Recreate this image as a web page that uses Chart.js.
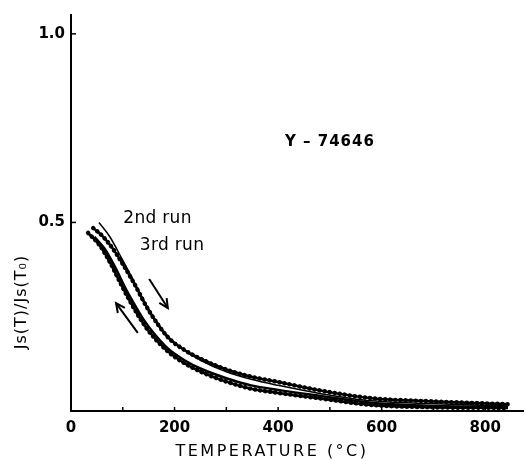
<!DOCTYPE html>
<html>
<head>
<meta charset="utf-8">
<script src="https://cdn.jsdelivr.net/npm/chart.js@4"></script>
<style>
  html, body { margin: 0; padding: 0; background: #fff; }
  #wrap { width: 525px; height: 461px; }
</style>
</head>
<body>
<div id="wrap"><canvas id="chart"></canvas></div>
<script>
// 2nd run, heating (thin line)
const heat2T = [54, 75, 99, 120, 150, 187, 220, 251, 300, 348, 400, 483, 580, 690, 844];
const heat2V = [0.500, 0.462, 0.402, 0.348, 0.270, 0.198, 0.160, 0.134, 0.104, 0.084, 0.068, 0.046, 0.027, 0.020, 0.013];
// 3rd run, heating (dotted)
const heat3T = [43, 60, 80, 99, 120, 150, 187, 220, 251, 300, 348, 400, 483, 580, 690, 844];
const heat3V = [0.485, 0.465, 0.432, 0.392, 0.343, 0.267, 0.196, 0.161, 0.138, 0.110, 0.091, 0.077, 0.054, 0.034, 0.026, 0.018];
// cooling curves
const cool2T = [45, 65, 85, 105, 122, 140, 160, 187, 220, 251, 300, 348, 400, 483, 580, 690, 844];
const cool2V = [0.462, 0.430, 0.382, 0.326, 0.284, 0.243, 0.206, 0.166, 0.134, 0.112, 0.087, 0.068, 0.056, 0.040, 0.022, 0.014, 0.010];
const cool3T = [33, 55, 75, 97, 112, 130, 150, 187, 220, 251, 300, 348, 400, 483, 580, 690, 844];
const cool3V = [0.472, 0.440, 0.395, 0.335, 0.296, 0.253, 0.212, 0.158, 0.126, 0.104, 0.078, 0.059, 0.048, 0.033, 0.016, 0.010, 0.008];

const xLabels = [0, 200, 400, 600, 800];
const yLabels = [0.5, 1.0];

const pts = (xs, ys) => xs.map((x, i) => ({ x: x, y: ys[i] }));

const line = (data, w, extra) => Object.assign({
    data: data,
    borderColor: '#000',
    borderWidth: w,
    pointRadius: 0,
    fill: false,
    cubicInterpolationMode: 'monotone'
}, extra || {});

// dots drawn on top of the thick curves
const beads = { borderDash: [0.1, 5], borderCapStyle: 'round' };

const notes = {
    id: 'notes',
    afterDraw(chart) {
        const ctx = chart.ctx;
        const xs = chart.scales.x, ys = chart.scales.y;
        const area = chart.chartArea;
        ctx.save();
        ctx.strokeStyle = '#000';
        ctx.fillStyle = '#000';
        // inward ticks
        ctx.lineWidth = 1.5;
        for (let t = 100; t <= 800; t += 100) {
            const px = xs.getPixelForValue(t);
            ctx.beginPath(); ctx.moveTo(px, area.bottom); ctx.lineTo(px, area.bottom - 4); ctx.stroke();
        }
        yLabels.forEach(v => {
            const py = ys.getPixelForValue(v);
            ctx.beginPath(); ctx.moveTo(area.left, py); ctx.lineTo(area.left + 5, py); ctx.stroke();
        });
        // arrows
        const arrow = (t0, v0, t1, v1) => {
            const x0 = xs.getPixelForValue(t0), y0 = ys.getPixelForValue(v0);
            const x1 = xs.getPixelForValue(t1), y1 = ys.getPixelForValue(v1);
            const a = Math.atan2(y1 - y0, x1 - x0);
            ctx.lineWidth = 2;
            ctx.beginPath(); ctx.moveTo(x0, y0); ctx.lineTo(x1, y1); ctx.stroke();
            ctx.beginPath();
            ctx.moveTo(x1 - 10 * Math.cos(a - 0.45), y1 - 10 * Math.sin(a - 0.45));
            ctx.lineTo(x1, y1);
            ctx.lineTo(x1 - 10 * Math.cos(a + 0.45), y1 - 10 * Math.sin(a + 0.45));
            ctx.stroke();
        };
        arrow(151, 0.35, 187, 0.273);
        arrow(129, 0.207, 87, 0.286);
        // labels
        ctx.textBaseline = 'middle';
        ctx.font = '17px "DejaVu Sans"';
        ctx.letterSpacing = '0.3px';
        ctx.textAlign = 'left';
        ctx.fillText('2nd run', xs.getPixelForValue(101), ys.getPixelForValue(0.510));
        ctx.fillText('3rd run', xs.getPixelForValue(133), ys.getPixelForValue(0.438));
        ctx.font = 'bold 15px "DejaVu Sans"';
        ctx.textAlign = 'center';
        ctx.letterSpacing = '1px';
        ctx.fillText('Y \u2013 74646', xs.getPixelForValue(500), ys.getPixelForValue(0.713));
        // axis titles
        ctx.font = '16px "DejaVu Sans"';
        ctx.letterSpacing = '2.5px';
        ctx.fillText('TEMPERATURE (\u00B0C)', 272, 452);
        ctx.translate(22, 302);
        ctx.rotate(-Math.PI / 2);
        ctx.letterSpacing = '1px';
        ctx.fillText('Js(T)/Js(T\u2080)', 0, 0);
        ctx.restore();
    }
};

const tickFont = { family: 'DejaVu Sans', size: 15, weight: 'bold' };

new Chart(document.getElementById('chart'), {
    type: 'line',
    data: {
        datasets: [
            line(pts(heat2T, heat2V), 1.5),
            line(pts(heat3T, heat3V), 2.5),
            line(pts(heat3T, heat3V), 4.5, beads),
            line(pts(cool2T, cool2V), 2.5),
            line(pts(cool3T, cool3V), 2.5),
            line(pts(cool3T, cool3V), 4.5, beads)
        ]
    },
    options: {
        responsive: true,
        maintainAspectRatio: false,
        animation: false,
        layout: { padding: { top: 15, right: 2, left: 0, bottom: 0 } },
        plugins: { legend: { display: false }, tooltip: { enabled: false } },
        scales: {
            x: {
                type: 'linear',
                min: 0,
                max: 873,
                afterBuildTicks: s => { s.ticks = xLabels.map(v => ({ value: v })); },
                afterFit: s => { s.height = 50; },
                ticks: { autoSkip: false, maxRotation: 0, color: '#000', font: tickFont, padding: 8, callback: v => String(v) },
                grid: { display: false, drawTicks: false },
                border: { display: true, color: '#000', width: 2 }
            },
            y: {
                type: 'linear',
                min: 0,
                max: 1.05,
                afterBuildTicks: s => { s.ticks = yLabels.map(v => ({ value: v })); },
                afterFit: s => { s.width = 71; },
                ticks: { color: '#000', font: tickFont, padding: 6, callback: v => v.toFixed(1) },
                grid: { display: false, drawTicks: false },
                border: { display: true, color: '#000', width: 2 }
            }
        }
    },
    plugins: [notes]
});
</script>
</body>
</html>
